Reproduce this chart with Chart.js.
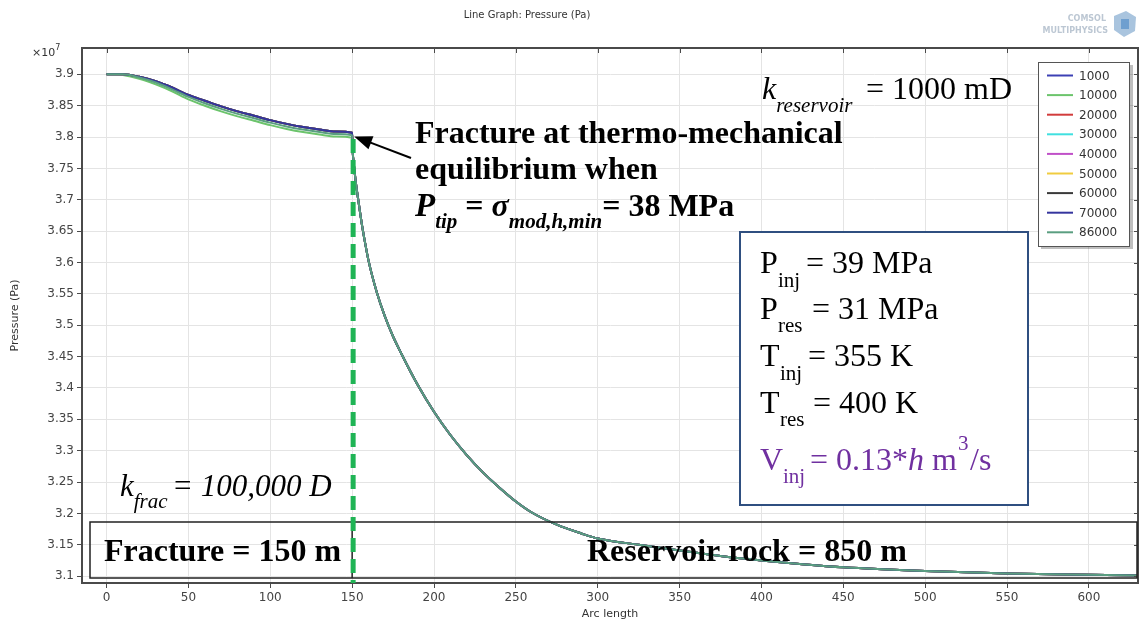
<!DOCTYPE html>
<html>
<head>
<meta charset="utf-8">
<script src="https://cdn.jsdelivr.net/npm/chart.js@4/dist/chart.umd.min.js"></script>
<style>
  html, body { margin: 0; padding: 0; background: #fff; }
  #wrap { width: 1140px; height: 623px; position: relative; }
</style>
</head>
<body>
<div id="wrap"><canvas id="pressure"></canvas></div>
<script>
// injection series (legend labels) and their line colours
var seriesLabels = ["1000", "10000", "20000", "30000", "40000", "50000", "60000", "70000", "86000"];
var seriesColors = ["#3c40b4", "#6cc46c", "#d23c3c", "#40e0e0", "#c050c8", "#f0cc40", "#3a3a3a", "#35359e", "#5a9e80"];

// pressure along the fracture (x1e7 Pa), three slightly different profiles
var arcFracture    = [0, 5, 10, 20, 30, 40, 50, 60, 70, 80, 90, 100, 110, 120, 130, 140, 150];
var pFractureUpper = [3.900, 3.900, 3.900, 3.896, 3.889, 3.879, 3.867, 3.858, 3.849, 3.841, 3.834, 3.827, 3.821, 3.816, 3.812, 3.809, 3.807];
var pFractureMid   = [3.900, 3.900, 3.900, 3.895, 3.887, 3.876, 3.864, 3.854, 3.845, 3.837, 3.830, 3.823, 3.817, 3.812, 3.808, 3.805, 3.803];
var pFractureLow   = [3.900, 3.900, 3.899, 3.893, 3.884, 3.873, 3.860, 3.850, 3.841, 3.833, 3.826, 3.819, 3.813, 3.808, 3.804, 3.801, 3.799];
// which fracture profile each series follows (0 upper, 1 mid, 2 low)
var fractureProfile = [0, 2, 0, 0, 0, 0, 0, 0, 1];

// pressure in the reservoir rock, identical for all series
var arcReservoir = [150.4, 151, 152, 154, 156, 158, 160, 165, 170, 175, 180, 190, 200, 210, 220, 230, 240, 250, 260, 275, 290, 300, 325, 350, 375, 400, 425, 450, 500, 550, 600, 630];
var pReservoir   = [3.775, 3.758, 3.733, 3.695, 3.660, 3.630, 3.603, 3.553, 3.514, 3.482, 3.455, 3.405, 3.362, 3.325, 3.293, 3.265, 3.241, 3.219, 3.201, 3.182, 3.168, 3.160, 3.150, 3.141, 3.132, 3.125, 3.119, 3.114, 3.108, 3.104, 3.102, 3.101];

// axis ranges and tick values
var xRange = [-15, 630];
var yRange = [3.089, 3.942];
var xTicks = [0, 50, 100, 150, 200, 250, 300, 350, 400, 450, 500, 550, 600];
var yTicks = [3.1, 3.15, 3.2, 3.25, 3.3, 3.35, 3.4, 3.45, 3.5, 3.55, 3.6, 3.65, 3.7, 3.75, 3.8, 3.85, 3.9];

var fractureLength = 150;

var SANS = '"DejaVu Sans", sans-serif';
var SERIF = '"Liberation Serif", "Times New Roman", serif';

var fractureSets = [pFractureUpper, pFractureMid, pFractureLow];

var datasets = seriesLabels.map(function (label, i) {
  var prof = fractureSets[fractureProfile[i]];
  var pts = [];
  arcFracture.forEach(function (x, k) { pts.push({ x: x, y: prof[k] }); });
  arcReservoir.forEach(function (x, k) { pts.push({ x: x, y: pReservoir[k] }); });
  return {
    label: label,
    data: pts,
    borderColor: seriesColors[i],
    borderWidth: 2,
    pointRadius: 0,
    cubicInterpolationMode: "monotone",
    order: -i
  };
});

// text run with mixed fonts / sub- and superscripts
function rich(ctx, x, y, parts) {
  parts.forEach(function (p) {
    ctx.font = p.f;
    ctx.fillStyle = p.c || "#000";
    if (p.x !== undefined) x = p.x;
    ctx.fillText(p.t, x, y + (p.dy || 0));
    x += ctx.measureText(p.t).width;
  });
}

var decorations = {
  id: "decorations",
  beforeDraw: function (chart) {
    var ctx = chart.ctx;
    ctx.save();
    ctx.fillStyle = "#fff";
    ctx.fillRect(0, 0, chart.width, chart.height);
    ctx.restore();
  },
  afterDraw: function (chart) {
    var ctx = chart.ctx;
    var a = chart.chartArea;
    var xs = chart.scales.x, ys = chart.scales.y;
    ctx.save();
    ctx.textBaseline = "alphabetic";

    // top and right frame with ticks
    ctx.strokeStyle = "#4a4a4a";
    ctx.lineWidth = 2;
    ctx.beginPath();
    ctx.moveTo(a.left, a.top); ctx.lineTo(a.right, a.top); ctx.lineTo(a.right, a.bottom);
    ctx.stroke();
    ctx.lineWidth = 1;
    xs.ticks.forEach(function (t) {
      var px = Math.round(xs.getPixelForValue(t.value)) + 0.5;
      ctx.beginPath(); ctx.moveTo(px, a.top); ctx.lineTo(px, a.top + 5); ctx.stroke();
    });
    ys.ticks.forEach(function (t) {
      var py = Math.round(ys.getPixelForValue(t.value)) + 0.5;
      ctx.beginPath(); ctx.moveTo(a.right - 4, py); ctx.lineTo(a.right, py); ctx.stroke();
    });

    // title, axis titles, exponent
    ctx.fillStyle = "#333";
    ctx.font = "10px " + SANS;
    ctx.textAlign = "center";
    ctx.fillText("Line Graph: Pressure (Pa)", 527, 18);
    ctx.font = "11px " + SANS;
    ctx.fillText("Arc length", (a.left + a.right) / 2, 617);
    ctx.save();
    ctx.translate(18, (a.top + a.bottom) / 2);
    ctx.rotate(-Math.PI / 2);
    ctx.fillText("Pressure (Pa)", 0, 0);
    ctx.restore();
    ctx.textAlign = "left";
    rich(ctx, 32, 56, [{ t: "\u00d710", f: "11px " + SANS, c: "#333" }, { t: "7", f: "8px " + SANS, c: "#333", dy: -6 }]);

    // faint software logo
    ctx.fillStyle = "#bcc7d3";
    ctx.font = "bold 8px " + SANS;
    ctx.textAlign = "right";
    ctx.fillText("COMSOL", 1106, 21);
    ctx.fillText("MULTIPHYSICS", 1108, 33);
    ctx.fillStyle = "#a9c4de";
    ctx.beginPath();
    ctx.moveTo(1114, 16); ctx.lineTo(1126, 11); ctx.lineTo(1136, 17); ctx.lineTo(1135, 31); ctx.lineTo(1124, 37); ctx.lineTo(1114, 30);
    ctx.closePath(); ctx.fill();
    ctx.fillStyle = "#6f9fcf";
    ctx.fillRect(1121, 19, 8, 10);
    ctx.textAlign = "left";

    var fB = "bold 32px " + SERIF, fR = "32px " + SERIF, fS = "21px " + SERIF;

    // fracture / reservoir boxes
    var xf = xs.getPixelForValue(fractureLength);
    ctx.strokeStyle = "#222";
    ctx.lineWidth = 1.5;
    ctx.strokeRect(90, 522, 1137 - 90, 56);
    ctx.beginPath(); ctx.moveTo(xf, 522); ctx.lineTo(xf, 578); ctx.stroke();
    ctx.fillStyle = "#000";
    ctx.font = fB;
    ctx.fillText("Fracture = 150 m", 104, 561);
    ctx.fillText("Reservoir rock = 850 m", 587, 561);

    // green dashed line marking the fracture tip
    ctx.strokeStyle = "#1fb455";
    ctx.lineWidth = 5;
    ctx.setLineDash([14, 7]);
    ctx.beginPath();
    ctx.moveTo(xf + 1, ys.getPixelForValue(3.797)); ctx.lineTo(xf + 1, a.bottom);
    ctx.stroke();
    ctx.setLineDash([]);

    // arrow to the tip
    var tipX = xf + 2, tipY = ys.getPixelForValue(3.801);
    var tailX = 411, tailY = 158;
    var ang = Math.atan2(tipY - tailY, tipX - tailX);
    ctx.strokeStyle = "#000"; ctx.fillStyle = "#000"; ctx.lineWidth = 2;
    ctx.beginPath(); ctx.moveTo(tailX, tailY);
    ctx.lineTo(tipX - 14 * Math.cos(ang), tipY - 14 * Math.sin(ang)); ctx.stroke();
    ctx.beginPath();
    ctx.moveTo(tipX, tipY);
    ctx.lineTo(tipX - 18 * Math.cos(ang) + 7 * Math.sin(ang), tipY - 18 * Math.sin(ang) - 7 * Math.cos(ang));
    ctx.lineTo(tipX - 18 * Math.cos(ang) - 7 * Math.sin(ang), tipY - 18 * Math.sin(ang) + 7 * Math.cos(ang));
    ctx.closePath(); ctx.fill();

    // tip annotation
    ctx.font = fB;
    ctx.fillText("Fracture at thermo-mechanical", 415, 143);
    ctx.fillText("equilibrium when", 415, 179);
    rich(ctx, 415, 216, [
      { t: "P", f: "bold italic 33px " + SERIF },
      { t: "tip", f: "bold italic 21px " + SERIF, dy: 12 },
      { t: " = ", f: fB },
      { t: "\u03c3", f: "bold italic 32px " + SERIF },
      { t: "mod,h,min", f: "bold italic 21px " + SERIF, dy: 12 },
      { t: "= 38 MPa", f: fB }
    ]);

    // permeabilities
    rich(ctx, 762, 99, [
      { t: "k", f: "italic 32px " + SERIF },
      { t: "reservoir", f: "italic 21px " + SERIF, dy: 13 },
      { t: "= 1000 mD", f: fR, x: 866 }
    ]);
    rich(ctx, 120, 496, [
      { t: "k", f: "italic 31px " + SERIF },
      { t: "frac", f: "italic 21px " + SERIF, dy: 12 },
      { t: "= 100,000 D", f: "italic 31px " + SERIF, x: 172 }
    ]);

    // injection / reservoir conditions box
    ctx.fillStyle = "#fff";
    ctx.fillRect(740, 232, 288, 273);
    ctx.strokeStyle = "#2f4f80";
    ctx.lineWidth = 2;
    ctx.strokeRect(740, 232, 288, 273);
    rich(ctx, 760, 273, [{ t: "P", f: fR }, { t: "inj", f: fS, dy: 14, x: 778 }, { t: "= 39 MPa", f: fR, x: 806 }]);
    rich(ctx, 760, 319, [{ t: "P", f: fR }, { t: "res", f: fS, dy: 13, x: 778 }, { t: "= 31 MPa", f: fR, x: 812 }]);
    rich(ctx, 760, 366, [{ t: "T", f: fR }, { t: "inj", f: fS, dy: 14, x: 780 }, { t: "= 355 K", f: fR, x: 808 }]);
    rich(ctx, 760, 413, [{ t: "T", f: fR }, { t: "res", f: fS, dy: 13, x: 780 }, { t: "= 400 K", f: fR, x: 813 }]);
    var pur = "#7030a0";
    rich(ctx, 760, 470, [
      { t: "V", f: fR, c: pur }, { t: "inj", f: fS, c: pur, dy: 13, x: 783 },
      { t: "= 0.13*", f: fR, c: pur, x: 810 }, { t: "h", f: "italic 32px " + SERIF, c: pur },
      { t: " m", f: fR, c: pur }, { t: "3", f: fS, c: pur, dy: -20, x: 958 }, { t: "/s", f: fR, c: pur, x: 970 }
    ]);

    // legend
    ctx.fillStyle = "rgba(0,0,0,0.25)";
    ctx.fillRect(1041, 65, 92, 184);
    ctx.fillStyle = "#fff";
    ctx.fillRect(1038, 62, 91, 184);
    ctx.strokeStyle = "#555"; ctx.lineWidth = 1;
    ctx.strokeRect(1038.5, 62.5, 91, 184);
    ctx.font = "12px " + SANS;
    ctx.textBaseline = "middle";
    seriesLabels.forEach(function (lab, i) {
      var y = 75.5 + i * 19.6;
      ctx.strokeStyle = seriesColors[i]; ctx.lineWidth = 2;
      ctx.beginPath(); ctx.moveTo(1047, y); ctx.lineTo(1073, y); ctx.stroke();
      ctx.fillStyle = "#333";
      ctx.fillText(lab, 1079, y + 1);
    });
    ctx.restore();
  }
};

function fixedTicks(list) {
  return function (scale) {
    scale.ticks = list.map(function (v) { return { value: v }; });
  };
}

new Chart(document.getElementById("pressure"), {
  type: "line",
  data: { datasets: datasets },
  options: {
    responsive: true,
    maintainAspectRatio: false,
    animation: false,
    devicePixelRatio: 1,
    layout: { padding: { left: 0, right: 2, top: 48, bottom: 0 } },
    plugins: { legend: { display: false }, tooltip: { enabled: false }, title: { display: false } },
    scales: {
      x: {
        type: "linear",
        bounds: "data",
        min: xRange[0],
        max: xRange[1],
        afterBuildTicks: fixedTicks(xTicks),
        afterFit: function (s) { s.height = 40; },
        ticks: {
          autoSkip: false,
          maxRotation: 0,
          padding: 3,
          color: "#444",
          font: { family: SANS, size: 12 },
          callback: function (v) { return String(v); }
        },
        grid: { color: "#e4e4e4", tickColor: "#4a4a4a", tickLength: 5 },
        border: { color: "#4a4a4a", width: 2 }
      },
      y: {
        type: "linear",
        bounds: "data",
        min: yRange[0],
        max: yRange[1],
        afterBuildTicks: fixedTicks(yTicks),
        afterFit: function (s) { s.width = 82; },
        ticks: {
          autoSkip: false,
          padding: 3,
          color: "#444",
          font: { family: SANS, size: 12 },
          callback: function (v) { return String(+v.toFixed(2)); }
        },
        grid: { color: "#e4e4e4", tickColor: "#4a4a4a", tickLength: 5 },
        border: { color: "#4a4a4a", width: 2 }
      }
    }
  },
  plugins: [decorations]
});
</script>
</body>
</html>
